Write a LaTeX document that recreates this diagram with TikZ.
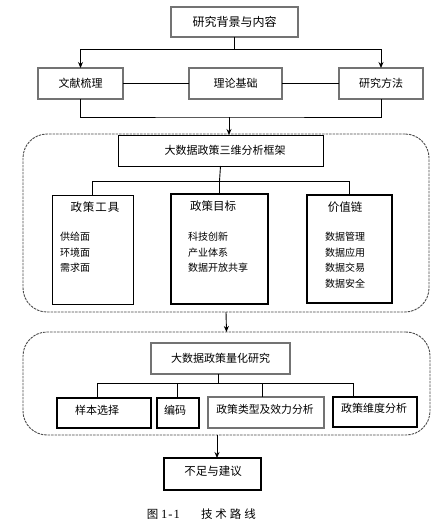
\documentclass[tikz,border=0pt]{standalone}
\usepackage{fontspec}
\setmainfont{Noto Sans CJK SC}
\newfontfamily\capserif{Liberation Serif}
\usetikzlibrary{arrows.meta}
\definecolor{boxgray}{rgb}{0.45,0.45,0.45}
\definecolor{dashgray}{rgb}{0.3,0.3,0.3}
\begin{document}
\begin{tikzpicture}[x=1pt,y=-1pt,
  every node/.style={inner sep=0pt,outer sep=0pt},
  bbox/.style={draw=black,line width=1pt,anchor=north west,fill=white,font=\fontsize{11}{13}\selectfont},
  gbox/.style={draw=boxgray,line width=1.3pt,anchor=north west,fill=white,font=\fontsize{11}{13}\selectfont},
  tbox/.style={draw=black,line width=1.4pt,anchor=north west,fill=white},
  dbox/.style={draw=dashgray,line width=0.9pt,dash pattern=on 2.5pt off 1pt,rounded corners=24pt,anchor=north west},
  conn/.style={draw=black,line width=0.9pt},
  arr/.style={conn,-{Stealth[length=6pt,width=5pt]}},
  ttl/.style={font=\fontsize{11.5}{13}\selectfont},
  lst/.style={font=\fontsize{10}{15.5}\selectfont,align=left,anchor=west}
]
\useasboundingbox[fill=white] (0,0) rectangle (447,520);

% dashed containers
\node[dbox,minimum width=406,minimum height=178] (d1) at (23,134) {};
\node[dbox,minimum width=407,minimum height=103] (d2) at (23,332) {};

% top part
\node[gbox,minimum width=127,minimum height=30,font=\fontsize{12}{14}\selectfont] (top) at (171,7) {研究背景与内容};
\node[gbox,minimum width=85,minimum height=31] (lit) at (38,68) {文献梳理\hspace{8pt}};
\node[gbox,minimum width=93,minimum height=31] (theory) at (189,68) {理论基础};
\node[gbox,minimum width=84,minimum height=31] (method) at (339,68) {研究方法};

\draw[arr] (top.south) -- ++(0,12) -| (lit.north);
\draw[arr] (top.south) -- ++(0,12) -| (method.north);
\draw[conn] (lit.east) -- (theory.west);
\draw[conn] (theory.east) -- (method.west);
\coordinate (j1) at (229,117);
\draw[conn] (lit.south) |- (j1) -| (method.south);

% framework
\node[bbox,minimum width=205,minimum height=31] (frame) at (118,135) {\hspace{9pt}大数据政策三维分析框架};
\draw[arr] (j1) -- (j1 |- frame.north);

\node[bbox,minimum width=81,minimum height=109] (tools) at (52,195) {};
\node[tbox,minimum width=97,minimum height=110] (goals) at (171,194) {};
\node[tbox,minimum width=85,minimum height=108] (chain) at (307,195) {};

\coordinate (j2) at (219.5,181);
\draw[conn] (frame.south) -- (j2);
\draw[conn] (j2) -| (tools.north);
\draw[conn] (j2) -| (chain.north);
\draw[conn] (j2) -- (goals.north);

\node[ttl] (toolsT) at (95,207) {政\hspace{1pt}策\hspace{1pt}工\hspace{1pt}具};
\node[ttl] (goalsT) at (213,206) {政策目标};
\node[ttl] (chainT) at (345,207) {价值链};
\node[lst] (toolsL) at (60,252.5) {供给面\\环境面\\需求面};
\node[lst] (goalsL) at (188,252.5) {科技创新\\产业体系\\数据开放共享};
\node[lst] (chainL) at (325,260) {数据管理\\数据应用\\数据交易\\数据安全};

\draw[arr] (d1.south) -- (d2.north);

% quantitative study
\node[gbox,minimum width=139,minimum height=31] (quant) at (151,343) {大数据政策量化研究\hspace{6pt}};
\node[bbox,line width=1.2pt,minimum width=94,minimum height=30] (sample) at (57,398) {};
\node[bbox,line width=1.2pt,minimum width=42,minimum height=30] (code) at (157,398) {};
\node[gbox,minimum width=116,minimum height=31] (type) at (208,397) {};
\node[bbox,line width=1.2pt,minimum width=84,minimum height=30] (dim) at (333,397) {};
\node[font=\fontsize{11}{13}\selectfont] (sampleT) at (97,410) {样本选择};
\node[font=\fontsize{11}{13}\selectfont] (codeT) at (175,410) {编码};
\node[font=\fontsize{10.8}{13}\selectfont] (typeT) at (265,409) {政策类型及效力分析};
\node[font=\fontsize{11}{13}\selectfont] (dimT) at (374,408) {政策维度分析};

\coordinate (q0) at (218,383);
\coordinate (q1) at (97,383);
\coordinate (q2) at (177,383);
\coordinate (q3) at (262,383);
\coordinate (q4) at (353,383);
\draw[conn] (quant.south -| q0) -- (q0);
\draw[conn] (q1) -- (q4);
\draw[conn] (q1) -- (q1 |- sample.north);
\draw[conn] (q2) -- (q2 |- code.north);
\draw[conn] (q3) -- (q3 |- type.north);
\draw[conn] (q4) -- (q4 |- dim.north);

% end
\node[bbox,line width=1.2pt,minimum width=97,minimum height=32] (end) at (164,458) {};
\node[font=\fontsize{11.5}{13}\selectfont] (endT) at (213,471) {不足与建议};
\coordinate (j3) at (217,435);
\draw[arr] (j3) -- (j3 |- end.north);

% caption
\node[font=\fontsize{11.5}{13}\selectfont] (cap1) at (152.5,514) {图};
\node[font=\capserif\fontsize{12.5}{13}\selectfont] (cap2) at (170.5,514) {1\hspace{1pt}-\hspace{1pt}1};
\node[font=\fontsize{11.5}{13}\selectfont] (cap3) at (228.5,514) {技\hspace{3pt}术\hspace{3pt}路\hspace{3pt}线};
\end{tikzpicture}
\end{document}
